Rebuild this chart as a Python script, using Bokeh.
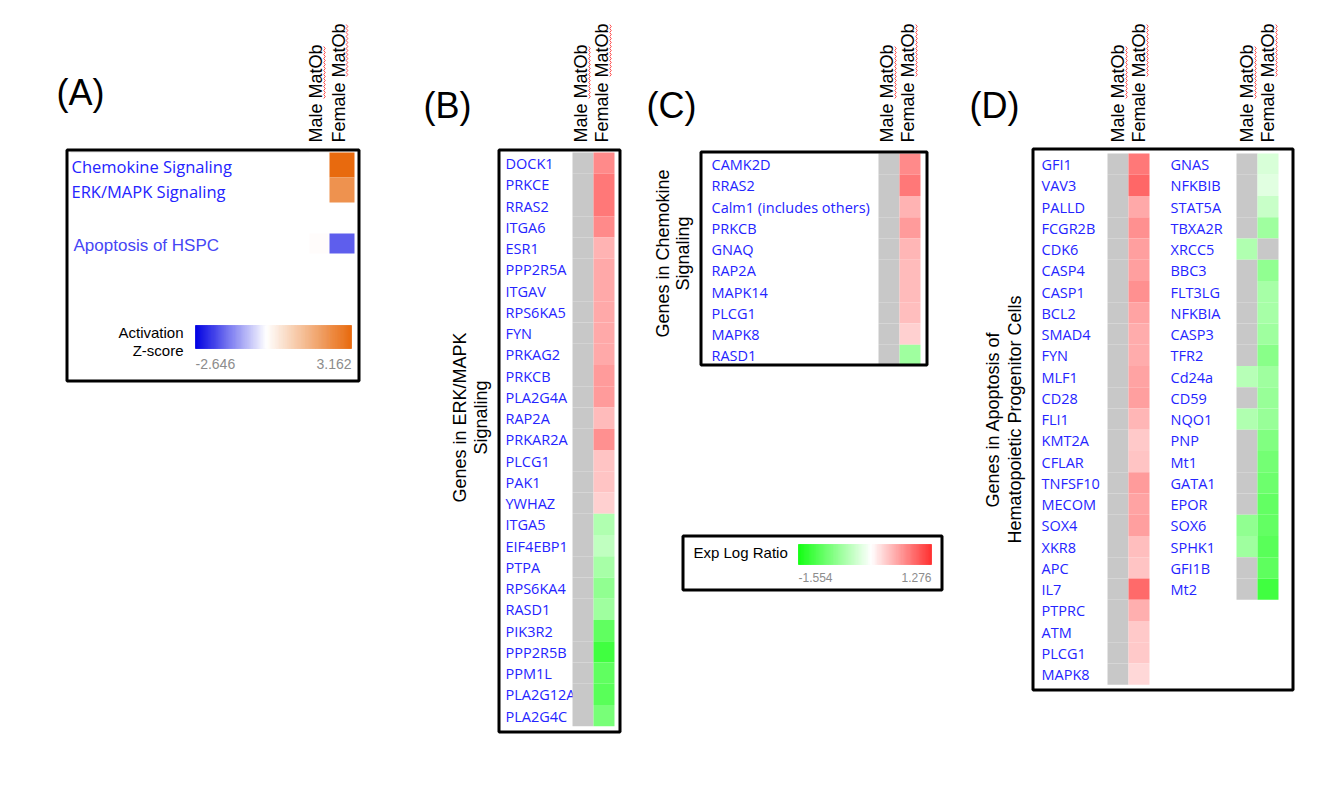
import numpy as np
from bokeh.plotting import figure
from bokeh.models import Range1d, ColumnDataSource, LinearColorMapper
from bokeh.transform import transform
from bokeh.core.properties import value
from bokeh.embed import file_html
from bokeh.resources import INLINE

NaN = float("nan")

# ---------------- data ----------------
COLUMNS = ["Male MatOb", "Female MatOb"]

A_PATHWAYS = ["Chemokine Signaling", "ERK/MAPK Signaling", "Apoptosis of HSPC"]
A_MALE = [NaN, NaN, 0.05]
A_FEMALE = [3.162, 2.30, -1.67]
Z_MIN, Z_MAX = -2.646, 3.162

B_GENES = ["DOCK1", "PRKCE", "RRAS2", "ITGA6", "ESR1", "PPP2R5A", "ITGAV", "RPS6KA5",
           "FYN", "PRKAG2", "PRKCB", "PLA2G4A", "RAP2A", "PRKAR2A", "PLCG1", "PAK1",
           "YWHAZ", "ITGA5", "EIF4EBP1", "PTPA", "RPS6KA4", "RASD1", "PIK3R2",
           "PPP2R5B", "PPM1L", "PLA2G12A", "PLA2G4C"]
B_MALE = [NaN, NaN, NaN, NaN, NaN, NaN, NaN, NaN, NaN, NaN, NaN, NaN, NaN, NaN,
          NaN, NaN, NaN, NaN, NaN, NaN, NaN, NaN, NaN, NaN, NaN, NaN, NaN]
B_FEMALE = [0.72, 0.84, 0.84, 0.72, 0.47, 0.54, 0.54, 0.54, 0.54, 0.54, 0.62, 0.62,
            0.42, 0.69, 0.37, 0.37, 0.29, -0.52, -0.42, -0.58, -0.73, -0.63, -1.05,
            -1.26, -1.05, -1.10, -0.89]

C_GENES = ["CAMK2D", "RRAS2", "Calm1 (includes others)", "PRKCB", "GNAQ", "RAP2A",
           "MAPK14", "PLCG1", "MAPK8", "RASD1"]
C_MALE = [NaN, NaN, NaN, NaN, NaN, NaN, NaN, NaN, NaN, NaN]
C_FEMALE = [0.72, 0.84, 0.47, 0.62, 0.45, 0.42, 0.42, 0.40, 0.29, -0.63]

D1_GENES = ["GFI1", "VAV3", "PALLD", "FCGR2B", "CDK6", "CASP4", "CASP1", "BCL2", "SMAD4",
            "FYN", "MLF1", "CD28", "FLI1", "KMT2A", "CFLAR", "TNFSF10", "MECOM", "SOX4",
            "XKR8", "APC", "IL7", "PTPRC", "ATM", "PLCG1", "MAPK8"]
D1_MALE = [NaN, NaN, NaN, NaN, NaN, NaN, NaN, NaN, NaN, NaN, NaN, NaN, NaN, NaN, NaN,
           NaN, NaN, NaN, NaN, NaN, NaN, NaN, NaN, NaN, NaN]
D1_FEMALE = [0.84, 0.94, 0.54, 0.69, 0.59, 0.59, 0.69, 0.57, 0.52, 0.52, 0.57, 0.59,
             0.45, 0.34, 0.37, 0.62, 0.57, 0.59, 0.40, 0.37, 0.92, 0.50, 0.34, 0.34, 0.24]

D2_GENES = ["GNAS", "NFKBIB", "STAT5A", "TBXA2R", "XRCC5", "BBC3", "FLT3LG", "NFKBIA",
            "CASP3", "TFR2", "Cd24a", "CD59", "NQO1", "PNP", "Mt1", "GATA1", "EPOR",
            "SOX6", "SPHK1", "GFI1B", "Mt2"]
D2_MALE = [NaN, NaN, NaN, NaN, -0.52, NaN, NaN, NaN, NaN, NaN, -0.47, NaN, -0.52, NaN,
           NaN, NaN, NaN, -0.73, -0.63, NaN, NaN]
D2_FEMALE = [-0.26, -0.20, -0.36, -0.63, NaN, -0.73, -0.58, -0.58, -0.63, -0.78, -0.63,
             -0.68, -0.68, -0.83, -0.92, -0.96, -1.03, -1.03, -1.10, -1.06, -1.26]
LR_MIN, LR_MAX = -1.554, 1.276

# ---------------- styles ----------------
ARIAL = value("Liberation Sans")
SEGOE = value("Open Sans")
BLUE_TXT = "#2424FF"
GRAY_CELL = "#C8C8C8"
ROW_H = 21.25


def ramp(c0, c1, c2, mid, n=300):
    out = []
    for i in range(n):
        t = i / (n - 1)
        if t <= mid:
            u = t / mid
            a, b = c0, c1
        else:
            u = (t - mid) / (1 - mid)
            a, b = c1, c2
        rgb = [int(round(a[k] + (b[k] - a[k]) * u)) for k in range(3)]
        out.append("#%02x%02x%02x" % tuple(rgb))
    return out


z_pal = ramp((0, 0, 226), (255, 255, 255), (232, 106, 14), -Z_MIN / (Z_MAX - Z_MIN))
lr_pal = ramp((20, 255, 20), (255, 255, 255), (255, 50, 50), -LR_MIN / (LR_MAX - LR_MIN))
z_map = LinearColorMapper(palette=z_pal, low=Z_MIN, high=Z_MAX, nan_color="#FFFFFF")
lr_map = LinearColorMapper(palette=lr_pal, low=LR_MIN, high=LR_MAX, nan_color=GRAY_CELL)

W, H = 1310, 779
p = figure(width=W, height=H, x_range=Range1d(0, W), y_range=Range1d(H, 0),
           output_backend="svg", toolbar_location=None, min_border=0,
           x_axis_location=None, y_axis_location=None)
p.grid.visible = False
p.outline_line_color = None
p.background_fill_color = "white"
p.border_fill_color = "white"


def box(x0, y0, x1, y1, lw=3):
    p.quad(left=[x0], right=[x1], top=[y0], bottom=[y1], fill_color=None,
           line_color="black", line_width=lw)


def panel_letter(txt, x, y):
    p.text(x=[x], y=[y], text=[txt], text_font=ARIAL, text_font_size="36px",
           text_align="left", text_baseline="middle", text_color="black")


def headers(centers, off):
    for cx, name in zip(centers, COLUMNS):
        p.text(x=[cx + off], y=[142], text=[name], angle=np.pi / 2, text_font=ARIAL,
               text_font_size="18px", text_align="left", text_baseline="middle",
               text_color="black")
        # spell-check squiggle under "MatOb"
        fem = name.startswith("F")
        start = 142 - (66 if fem else 44)
        end = 142 - (119 if fem else 98)
        ys = np.arange(start, end, -2.0)
        xs = cx + off + 8.5 + np.where(np.arange(len(ys)) % 2 == 0, -0.8, 0.8)
        p.line(x=xs, y=ys, line_color="#FF5050", line_width=1)


def axis_title(lines, xs, yc):
    for t, x in zip(lines, xs):
        p.text(x=[x], y=[yc], text=[t], angle=np.pi / 2, text_font=ARIAL,
               text_font_size="18px", text_align="center", text_baseline="middle",
               text_color="black")


def heat(genes, male, female, label_x, male_left, top, cw=21):
    n = len(genes)
    idx = np.arange(n)
    ty = top + idx * ROW_H
    p.text(x=[label_x] * n, y=list(ty + ROW_H / 2 + 0.5), text=genes, text_font=SEGOE,
           text_font_size="14.5px", text_align="left", text_baseline="middle",
           text_color=BLUE_TXT)
    for j, vals in enumerate([male, female]):
        src = ColumnDataSource(dict(l=[male_left + j * cw] * n, r=[male_left + (j + 1) * cw] * n,
                                    t=list(ty), b=list(ty + ROW_H), v=vals))
        p.quad(left="l", right="r", top="t", bottom="b", source=src,
               fill_color=transform("v", lr_map), line_color=None)


def gradient(mapper, lo, hi, x0, x1, y0, y1, n=160):
    vals = np.linspace(lo, hi, n)
    w = (x1 - x0) / n
    src = ColumnDataSource(dict(l=x0 + np.arange(n) * w, r=x0 + (np.arange(n) + 1) * w,
                                t=[y0] * n, b=[y1] * n, v=vals))
    p.quad(left="l", right="r", top="t", bottom="b", source=src,
           fill_color=transform("v", mapper), line_color=transform("v", mapper),
           line_width=0.8)


# ---------------- Panel A ----------------
panel_letter("(A)", 56, 92)
headers([319, 341.5], -3.5)
p.line(x=[70, 329], y=[151.5, 151.5], line_color="#E2E2E2", line_width=1)
a_tops = [152, 177, 233]
a_hts = [25, 25, 20]
a_bot = [t + h for t, h in zip(a_tops, a_hts)]
for j, (vals, l, r) in enumerate([(A_MALE, 309, 329), (A_FEMALE, 329, 354)]):
    src = ColumnDataSource(dict(l=[l] * 3, r=[r] * 3, t=a_tops, b=a_bot, v=vals))
    p.quad(left="l", right="r", top="t", bottom="b", source=src,
           fill_color=transform("v", z_map), line_color=None)
p.text(x=[71, 71], y=[166, 191], text=A_PATHWAYS[:2], text_font=SEGOE,
       text_font_size="16.5px", text_align="left", text_baseline="middle",
       text_color=BLUE_TXT)
p.text(x=[73], y=[245], text=A_PATHWAYS[2:], text_font=ARIAL, text_font_size="17px",
       text_align="left", text_baseline="middle", text_color="#4646F5")
gradient(z_map, Z_MIN, Z_MAX, 195, 351, 325, 348)
p.text(x=[183, 183], y=[332, 350], text=["Activation", "Z-score"], text_font=ARIAL,
       text_font_size="15px", text_align="right", text_baseline="middle", text_color="black")
p.text(x=[195], y=[363], text=["%.3f" % Z_MIN], text_font=ARIAL, text_font_size="14px",
       text_align="left", text_baseline="middle", text_color="#8C8C8C")
p.text(x=[351], y=[363], text=["%.3f" % Z_MAX], text_font=ARIAL, text_font_size="14px",
       text_align="right", text_baseline="middle", text_color="#8C8C8C")
box(66.5, 149.5, 358.5, 380.5)

# ---------------- Panel B ----------------
panel_letter("(B)", 423, 105)
headers([582.5, 603.5], -2)
axis_title(["Genes in ERK/MAPK", "Signaling"], [459, 480], 417)
heat(B_GENES, B_MALE, B_FEMALE, 505, 572, 152)
box(498.5, 149.5, 619.5, 731.5)

# ---------------- Panel C ----------------
panel_letter("(C)", 646, 105)
headers([888.5, 909.5], -2)
axis_title(["Genes in Chemokine", "Signaling"], [662, 682], 253)
heat(C_GENES, C_MALE, C_FEMALE, 711, 878, 153)
box(700.5, 151.5, 926.5, 364.5)

# legend
gradient(lr_map, LR_MIN, LR_MAX, 798, 931, 544, 564)
p.text(x=[693], y=[552], text=["Exp Log Ratio"], text_font=ARIAL, text_font_size="15px",
       text_align="left", text_baseline="middle", text_color="black")
p.text(x=[798], y=[577], text=["%.3f" % LR_MIN], text_font=ARIAL, text_font_size="12px",
       text_align="left", text_baseline="middle", text_color="#8C8C8C")
p.text(x=[931], y=[577], text=["%.3f" % LR_MAX], text_font=ARIAL, text_font_size="12px",
       text_align="right", text_baseline="middle", text_color="#8C8C8C")
box(682.5, 535.5, 941.5, 589.5)

# ---------------- Panel D ----------------
panel_letter("(D)", 969, 105)
headers([1117.5, 1138.5], 0)
headers([1246.5, 1267.5], 0)
axis_title(["Genes in Apoptosis of", "Hematopoietic Progenitor Cells"], [992, 1014], 419)
heat(D1_GENES, D1_MALE, D1_FEMALE, 1041, 1107, 153)
heat(D2_GENES, D2_MALE, D2_FEMALE, 1170, 1236, 153)
box(1032.5, 148.5, 1292.5, 689.5)

open("out.html", "w").write(file_html(p, INLINE))
